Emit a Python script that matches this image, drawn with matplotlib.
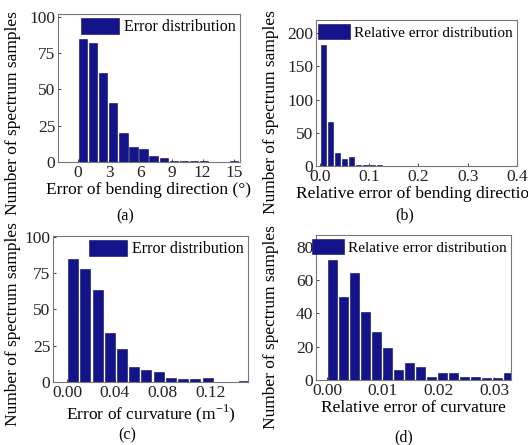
import numpy as np
import matplotlib
matplotlib.use('Agg')
import matplotlib.pyplot as plt

# ── data (histogram counts) ───────────────────────────────────────────────────

dir_err_width = 0.97
dir_err_counts = [85, 82, 61, 41, 20, 10, 9, 4, 3, 1, 0.5, 1, 1, 0, 0, 1]

dir_rel_width = 0.0142
dir_rel_counts = [182, 66, 20, 11, 14, 1, 1, 1, 1, 0, 0, 0, 0, 0.5, 0.5, 0,
                  0, 0, 0, 0, 0.5, 0, 0, 0, 0, 0, 0, 0]

curv_err_width = 0.0102
curv_err_counts = [85, 78, 63, 34, 23, 10, 8, 7, 3, 2, 2, 3, 0.3, 0.3, 1]

curv_rel_width = 0.00197
curv_rel_counts = [72, 50, 64, 41, 29, 19, 6, 10, 8, 2, 4, 4, 2, 2, 1, 1, 4]

BAR = '#14148a'
EDGE = '#0a0a55'

plt.rcParams['font.family'] = ['Liberation Serif', 'DejaVu Serif']
plt.rcParams['font.size'] = 11
plt.rcParams['mathtext.fontset'] = 'custom'
plt.rcParams['mathtext.rm'] = 'Liberation Serif'

fig = plt.figure(figsize=(5.28, 4.45), dpi=100)


def panel(rect, width, counts, xlim, ylim, xticks, yticks, xfmt,
          xlabel, ylabel, ylab_xy, legend, leg_kw, caption, cap_xy):
    ax = fig.add_axes(rect)
    centers = (np.arange(len(counts)) + 0.5) * width
    ax.bar(centers, counts, width=width * 0.82, color=BAR, edgecolor=EDGE,
           linewidth=0.4, label=legend)
    ax.set_xlim(*xlim)
    ax.set_ylim(*ylim)
    ax.set_xticks(xticks)
    ax.set_xticklabels([xfmt.format(t) for t in xticks])
    ax.set_yticks(yticks)
    ax.tick_params(direction='in', length=2, width=0.6, labelsize=12.5, pad=2,
                   colors='#222222')
    for s in ax.spines.values():
        s.set_color('#777777')
        s.set_linewidth(0.8)
    ax.set_xlabel(xlabel, fontsize=12.5, labelpad=1)
    ax.set_ylabel(ylabel, fontsize=12.5)
    ax.yaxis.set_label_coords(*ylab_xy)
    ax.legend(loc='upper right', frameon=False, handleheight=1.15,
              handletextpad=0.3, borderaxespad=0.15, borderpad=0.1, **leg_kw)
    fig.text(cap_xy[0] / 528, 1 - cap_xy[1] / 445, caption, ha='center',
             va='center', fontsize=11.5)
    return ax


abs_leg = dict(fontsize=11.5, handlelength=2.4)
rel_leg = dict(fontsize=11, handlelength=2.1)

panel([58 / 528, 1 - 162 / 445, 182 / 528, 148 / 445],
      dir_err_width, dir_err_counts, (-1.94, 15.6), (0, 102),
      [0, 3, 6, 9, 12, 15], [0, 25, 50, 75, 100], '{:g}',
      'Error of bending direction (°)', 'Number of spectrum samples',
      (-0.203, 0.33), 'Error distribution', abs_leg, '(a)', (125, 216))

panel([316 / 528, 1 - 166 / 445, 201 / 528, 146 / 445],
      dir_rel_width, dir_rel_counts, (-0.008, 0.4), (0, 220),
      [0.0, 0.1, 0.2, 0.3, 0.4], [0, 50, 100, 150, 200], '{:.1f}',
      'Relative error of bending direction', 'Number of spectrum samples',
      (-0.184, 0.37), 'Relative error distribution', rel_leg, '(b)', (405, 215))

panel([53 / 528, 1 - 382 / 445, 195 / 528, 146 / 445],
      curv_err_width, curv_err_counts, (-0.0117, 0.151), (0, 100.5),
      [0.0, 0.04, 0.08, 0.12], [0, 25, 50, 75, 100], '{:.2f}',
      'Error of curvature (m$^{\\mathregular{-1}}$)', 'Number of spectrum samples',
      (-0.164, 0.40), 'Error distribution', abs_leg, '(c)', (127, 435))

panel([316 / 528, 1 - 380 / 445, 195 / 528, 145 / 445],
      curv_rel_width, curv_rel_counts, (-0.002, 0.033), (0, 87),
      [0.0, 0.01, 0.02, 0.03], [0, 20, 40, 60, 80], '{:.2f}',
      'Relative error of curvature', 'Number of spectrum samples',
      (-0.19, 0.365), 'Relative error distribution', rel_leg, '(d)', (404, 437))

fig.savefig('out.png', dpi=100)
